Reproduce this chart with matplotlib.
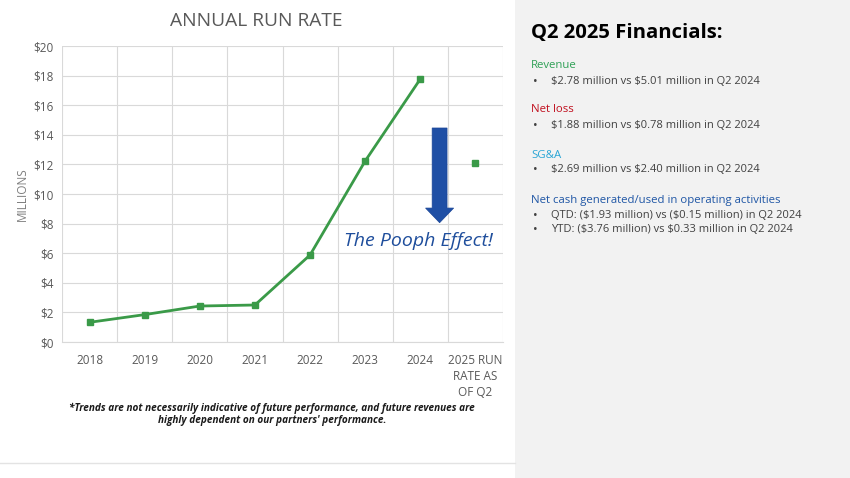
import matplotlib
matplotlib.use('Agg')
import matplotlib.pyplot as plt
import matplotlib.patches as mpatches
import numpy as np

plt.rcParams['font.family'] = ['Open Sans', 'DejaVu Sans']

# chart data (millions of dollars)
categories = ['2018', '2019', '2020', '2021', '2022', '2023', '2024', '2025 RUN\nRATE AS\nOF Q2']
revenue = [1.33, 1.85, 2.43, 2.5, 5.88, 12.23, 17.77]
run_rate_2025 = 12.1
y_ticks = [0, 2, 4, 6, 8, 10, 12, 14, 16, 18, 20]

# right panel text
panel_title = 'Q2 2025 Financials:'
sections = [
    ('Revenue', '#2ea055', ['$2.78 million vs $5.01 million in Q2 2024']),
    ('Net loss', '#c00f1e', ['$1.88 million vs $0.78 million in Q2 2024']),
    ('SG&A', '#2aa5d5', ['$2.69 million vs $2.40 million in Q2 2024']),
    ('Net cash generated/used in operating activities', '#1f56a5',
     ['QTD: ($1.93 million) vs ($0.15 million) in Q2 2024',
      'YTD: ($3.76 million) vs $0.33 million in Q2 2024']),
]

def esc(s):
    return s.replace('$', r'\$')

W, H = 850, 478
fig = plt.figure(figsize=(W / 100, H / 100), dpi=100)
fig.patch.set_facecolor('white')

# grey right panel and thin rule under the chart
fig.patches.append(mpatches.Rectangle((515 / W, 0), 1 - 515 / W, 1, transform=fig.transFigure,
                                      facecolor='#f2f2f2', edgecolor='none', zorder=0))
fig.add_artist(plt.Line2D([0, 515 / W], [1 - 463 / H, 1 - 463 / H], color='#e3e3e3', lw=1))

ax = fig.add_axes([62 / W, 1 - 342 / H, 441 / W, 296 / H])
x = np.arange(len(categories))
green = '#3a9a48'
ax.plot(x[:len(revenue)], revenue, '-s', color=green, lw=2.0, markersize=5,
        markerfacecolor=green, markeredgecolor=green, zorder=3)
ax.plot([x[-1]], [run_rate_2025], 's', color=green, markersize=5, zorder=3)

ax.set_xlim(-0.5, len(categories) - 0.5)
ax.set_ylim(0, 20)
ax.set_yticks(y_ticks)
ax.set_yticklabels([esc(f'${v}') for v in y_ticks])
ax.set_xticks(x)
ax.set_xticklabels(categories, linespacing=1.25, va='top')
ax.set_xticks(np.arange(-0.5, len(categories)), minor=True)
ax.grid(True, axis='y', color='#d9d9d9', lw=0.8)
ax.grid(True, axis='x', which='minor', color='#d9d9d9', lw=0.8)
ax.tick_params(axis='both', which='both', length=0, colors='#595959', labelsize=8.5)
ax.tick_params(axis='x', pad=9)
ax.tick_params(axis='y', pad=6)
for s in ['top', 'right', 'left']:
    ax.spines[s].set_visible(False)
ax.spines['bottom'].set_color('#d9d9d9')
ax.set_axisbelow(True)
ax.set_ylabel('MILLIONS', color='#7f7f7f', fontsize=8.5, labelpad=3)

# the "Pooph effect" arrow and caption
arrow = mpatches.FancyArrow(6.35, 14.46, 0, -6.4, width=0.27, head_width=0.51, head_length=0.99,
                            length_includes_head=True, facecolor='#1f4fa5', edgecolor='#1a4597',
                            lw=0.5, zorder=4)
ax.add_patch(arrow)
ax.text(5.96, 6.8, 'The Pooph Effect!', style='italic', color='#1f4e9c', fontsize=14,
        ha='center', va='center')

fig.text(256 / W, 1 - 21 / H, 'ANNUAL RUN RATE', ha='center', va='center', fontsize=13.8,
         color='#595959')
fig.text(272 / W, 1 - 408 / H, '*Trends are not necessarily indicative of future performance, and future revenues are',
         ha='center', va='center', fontsize=7.2, style='italic', weight='bold', color='#1a1a1a')
fig.text(272 / W, 1 - 421 / H, "highly dependent on our partners' performance.",
         ha='center', va='center', fontsize=7.2, style='italic', weight='bold', color='#1a1a1a')

# right panel
fig.text(531 / W, 1 - 33 / H, panel_title, fontsize=14.6, weight='bold', color='black', va='center')
head_y = [66, 110, 155, 200]
for (head, col, bullets), hy in zip(sections, head_y):
    fig.text(531 / W, 1 - hy / H, esc(head), fontsize=8.2, color=col, va='center')
    for i, b in enumerate(bullets):
        by = hy + 15 + 14.5 * i
        fig.text(533 / W, 1 - by / H, '•', fontsize=9, color='#404040', va='center')
        fig.text(551 / W, 1 - by / H, esc(b), fontsize=8.0, color='#404040', va='center')

fig.savefig('out.png', dpi=100)
